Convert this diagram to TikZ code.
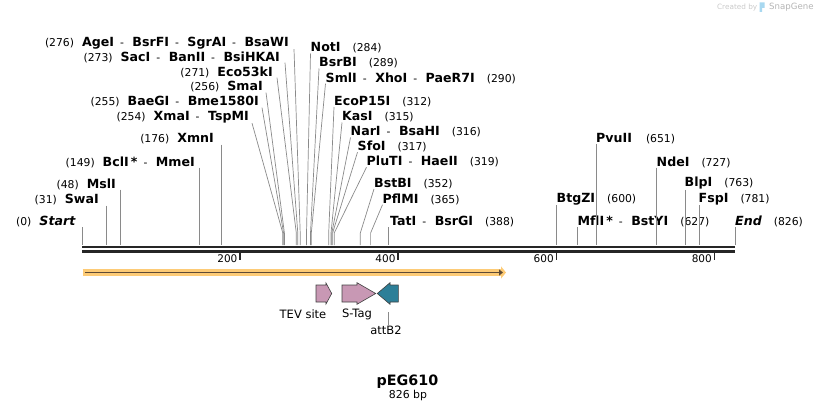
\documentclass[tikz,border=0pt]{standalone}
\usepackage{fontspec}
\setmainfont{DejaVu Sans}
\usetikzlibrary{arrows.meta}

\definecolor{cutgray}{HTML}{8A8A8A}
\definecolor{seqdark}{HTML}{262626}
\definecolor{tagpink}{HTML}{C898B4}
\definecolor{attteal}{HTML}{2D7F98}
\definecolor{orfband}{HTML}{FDCB76}
\definecolor{orfline}{HTML}{5E4B36}
\definecolor{sgblue}{HTML}{A8D8F0}
\definecolor{sggray}{HTML}{B4B4B4}

\newcommand{\enz}[1]{{\fontsize{12.6}{14}\selectfont\bfseries #1}}
\newcommand{\cpos}[1]{{\fontsize{10.8}{13}\selectfont(#1)}}
\newcommand{\dsh}{\hspace{6pt}{\fontsize{10.8}{13}\selectfont-}\hspace{8.5pt}}

\begin{document}
\begin{tikzpicture}[x=1pt,y=-1pt,>=latex,
  lbl/.style={inner sep=0pt},
  cut/.style={draw=cutgray,line width=0.7pt},
  feat/.style={draw=black!75,line width=0.6pt},
  ftext/.style={inner sep=0pt,font=\fontsize{11.5}{13}\selectfont}]
\useasboundingbox (0,0) rectangle (818,412);

  \coordinate (c0) at (82.0,245);
  \coordinate (c31) at (106.5,245);
  \coordinate (c48) at (120.0,245);
  \coordinate (c149) at (199.8,245);
  \coordinate (c176) at (221.1,245);
  \coordinate (c254) at (282.8,245);
  \coordinate (c255) at (283.6,245);
  \coordinate (c256) at (284.4,245);
  \coordinate (c271) at (296.3,245);
  \coordinate (c273) at (297.8,245);
  \coordinate (c276) at (300.2,245);
  \coordinate (c284) at (306.5,245);
  \coordinate (c289) at (310.5,245);
  \coordinate (c290) at (311.3,245);
  \coordinate (c312) at (328.7,245);
  \coordinate (c315) at (331.0,245);
  \coordinate (c316) at (331.8,245);
  \coordinate (c317) at (332.6,245);
  \coordinate (c319) at (334.2,245);
  \coordinate (c352) at (360.3,245);
  \coordinate (c365) at (370.6,245);
  \coordinate (c388) at (388.8,245);
  \coordinate (c600) at (556.4,245);
  \coordinate (c627) at (577.7,245);
  \coordinate (c651) at (596.7,245);
  \coordinate (c727) at (656.8,245);
  \coordinate (c763) at (685.2,245);
  \coordinate (c781) at (699.5,245);
  \coordinate (c826) at (735.0,245);

  \node (agei) at (289,43) [lbl,anchor=east] {\cpos{276}\hspace{8pt}\enz{AgeI}\dsh\enz{BsrFI}\dsh\enz{SgrAI}\dsh\enz{BsaWI}};
  \node (saci) at (280,57) [lbl,anchor=east] {\cpos{273}\hspace{8pt}\enz{SacI}\dsh\enz{BanII}\dsh\enz{BsiHKAI}};
  \node (eco53ki) at (273,72) [lbl,anchor=east] {\cpos{271}\hspace{8pt}\enz{Eco53kI}};
  \node (smai) at (263,87) [lbl,anchor=east] {\cpos{256}\hspace{8pt}\enz{SmaI}};
  \node (baegi) at (259,102) [lbl,anchor=east] {\cpos{255}\hspace{8pt}\enz{BaeGI}\dsh\enz{Bme1580I}};
  \node (xmai) at (249,117) [lbl,anchor=east] {\cpos{254}\hspace{8pt}\enz{XmaI}\dsh\enz{TspMI}};
  \node (xmni) at (214,139) [lbl,anchor=east] {\cpos{176}\hspace{8pt}\enz{XmnI}};
  \node (bcli) at (195,162) [lbl,anchor=east] {\cpos{149}\hspace{8pt}\enz{BclI\,*}\dsh\enz{MmeI}};
  \node (msli) at (116,184) [lbl,anchor=east] {\cpos{48}\hspace{8pt}\enz{MslI}};
  \node (swai) at (99,200) [lbl,anchor=east] {\cpos{31}\hspace{8pt}\enz{SwaI}};
  \node (start) at (75.5,221.5) [lbl,anchor=east] {\cpos{0}\hspace{8pt}\enz{\itshape Start}};

  \node (noti) at (310.5,48) [lbl,anchor=west] {\enz{NotI}\hspace{12pt}\cpos{284}};
  \node (bsrbi) at (319,63) [lbl,anchor=west] {\enz{BsrBI}\hspace{12pt}\cpos{289}};
  \node (smli) at (325.5,78) [lbl,anchor=west] {\enz{SmlI}\dsh\enz{XhoI}\dsh\enz{PaeR7I}\hspace{12pt}\cpos{290}};
  \node (ecop15i) at (334,101.5) [lbl,anchor=west] {\enz{EcoP15I}\hspace{12pt}\cpos{312}};
  \node (kasi) at (342,117) [lbl,anchor=west] {\enz{KasI}\hspace{12pt}\cpos{315}};
  \node (nari) at (350.5,132) [lbl,anchor=west] {\enz{NarI}\dsh\enz{BsaHI}\hspace{12pt}\cpos{316}};
  \node (sfoi) at (357.5,146.5) [lbl,anchor=west] {\enz{SfoI}\hspace{12pt}\cpos{317}};
  \node (pluti) at (366.5,161.5) [lbl,anchor=west] {\enz{PluTI}\dsh\enz{HaeII}\hspace{12pt}\cpos{319}};
  \node (bstbi) at (374,183.5) [lbl,anchor=west] {\enz{BstBI}\hspace{12pt}\cpos{352}};
  \node (pflmi) at (382.5,199) [lbl,anchor=west] {\enz{PflMI}\hspace{12pt}\cpos{365}};
  \node (tati) at (390,221.5) [lbl,anchor=west] {\enz{TatI}\dsh\enz{BsrGI}\hspace{12pt}\cpos{388}};
  \node (btgzi) at (556.5,199) [lbl,anchor=west] {\enz{BtgZI}\hspace{12pt}\cpos{600}};
  \node (mfli) at (577.5,221.5) [lbl,anchor=west] {\enz{MflI\,*}\dsh\enz{BstYI}\hspace{12pt}\cpos{627}};
  \node (pvuii) at (596,138.5) [lbl,anchor=west] {\enz{PvuII}\hspace{14pt}\cpos{651}};
  \node (ndei) at (656.5,162) [lbl,anchor=west] {\enz{NdeI}\hspace{12pt}\cpos{727}};
  \node (blpi) at (684.5,183.5) [lbl,anchor=west] {\enz{BlpI}\hspace{12pt}\cpos{763}};
  \node (fspi) at (698.5,199) [lbl,anchor=west] {\enz{FspI}\hspace{12pt}\cpos{781}};
  \node (end) at (735,221.5) [lbl,anchor=west] {\enz{\itshape End}\hspace{12pt}\cpos{826}};

  \draw [cut] ([xshift=5pt]agei.south east) -- ([yshift=12pt]c276) -- (c276);
  \draw [cut] ([xshift=5pt]saci.south east) -- ([yshift=12pt]c273) -- (c273);
  \draw [cut] ([xshift=4pt]eco53ki.south east) -- ([yshift=12pt]c271) -- (c271);
  \draw [cut] ([xshift=3pt]smai.south east) -- ([yshift=12pt]c256) -- (c256);
  \draw [cut] ([xshift=3pt]baegi.south east) -- ([yshift=12pt]c255) -- (c255);
  \draw [cut] ([xshift=3pt]xmai.south east) -- ([yshift=12pt]c254) -- (c254);
  \draw [cut] (c176 |- xmni.south) -- (c176);
  \draw [cut] (c149 |- bcli.south) -- (c149);
  \draw [cut] (c48 |- msli.south) -- (c48);
  \draw [cut] (c31 |- swai.south) -- (c31);
  \draw [cut] (c0 |- start.south) -- (c0);

  \draw [cut] (noti.south west) -- ([yshift=12pt]c284) -- (c284);
  \draw [cut] (bsrbi.south west) -- ([yshift=12pt]c289) -- (c289);
  \draw [cut] (smli.south west) -- ([yshift=12pt]c290) -- (c290);
  \draw [cut] (ecop15i.south west) -- ([yshift=12pt]c312) -- (c312);
  \draw [cut] (kasi.south west) -- ([yshift=12pt]c315) -- (c315);
  \draw [cut] (nari.south west) -- ([yshift=12pt]c316) -- (c316);
  \draw [cut] (sfoi.south west) -- ([yshift=12pt]c317) -- (c317);
  \draw [cut] (pluti.south west) -- ([yshift=12pt]c319) -- (c319);
  \draw [cut] (bstbi.south west) -- ([yshift=12pt]c352) -- (c352);
  \draw [cut] (pflmi.south west) -- ([yshift=12pt]c365) -- (c365);
  \draw [cut] (c388 |- tati.south) -- (c388);
  \draw [cut] (c600 |- btgzi.south) -- (c600);
  \draw [cut] (c627 |- mfli.south) -- (c627);
  \draw [cut] (c651 |- pvuii.south) -- (c651);
  \draw [cut] (c727 |- ndei.south) -- (c727);
  \draw [cut] (c763 |- blpi.south) -- (c763);
  \draw [cut] (c781 |- fspi.south) -- (c781);
  \draw [cut] (c826 |- end.south) -- (c826);

  \draw [seqdark,line width=2.4pt] (82,247) -- (735,247);
  \draw [seqdark,line width=2.4pt] (82,251.3) -- (735,251.3);
  \foreach \tx/\tl in {240.1/200,398.2/400,556.4/600,714.5/800}{
    \draw [seqdark,line width=1.8pt] (\tx,252.5) -- (\tx,259.5);
    \node at (\tx-2.5,259) [anchor=east,inner sep=0pt,font=\fontsize{10.5}{12}\selectfont] {\tl};
  }

  \draw [orfband,line width=6.5pt,-{Triangle[length=5pt,width=12pt]}] (82.7,272.5) -- (506,272.5);
  \draw [orfline,line width=1.8pt,-{Triangle[length=4pt,width=6pt]}] (85,272.5) -- (503,272.5);

  \draw [feat,fill=tagpink] (316,285) -- (326,285) -- (326,283) -- (331.7,293.5) -- (326,304) -- (326,302) -- (316,302) -- cycle;
  \draw [feat,fill=tagpink] (342,285) -- (357,285) -- (357,282.7) -- (375.7,293.5) -- (357,304.3) -- (357,302) -- (342,302) -- cycle;
  \draw [feat,fill=attteal] (377.3,293.5) -- (390,282.7) -- (390,285) -- (398.3,285) -- (398.3,302) -- (390,302) -- (390,304.3) -- cycle;

  \node (tevsite) at (303,314) [ftext] {TEV site};
  \node (stag) at (357,314) [ftext] {S-Tag};
  \node (attb2) at (386,330) [ftext] {attB2};
  \coordinate (attb2top) at (388,312);
  \draw [cut] (attb2top) -- (attb2top |- attb2.north);

  \node (title) at (407.5,381.5) [inner sep=0pt,font=\fontsize{14.3}{16}\selectfont\bfseries] {pEG610};
  \node (bpsize) at (408,395.5) [inner sep=0pt,font=\fontsize{10.9}{12}\selectfont] {826 bp};

  \node (createdby) at (757.5,7) [anchor=east,inner sep=0pt,text=sggray!70,font=\fontsize{7.3}{8}\selectfont] {Created by};
  \fill [sgblue] (759.5,2.5) rectangle (762,12) (762,2.5) rectangle (764.5,8);
  \node (snapgene) at (769,7) [anchor=west,inner sep=0pt,text=sggray,font=\fontsize{8.6}{9}\selectfont] {SnapGene};
\end{tikzpicture}
\end{document}
